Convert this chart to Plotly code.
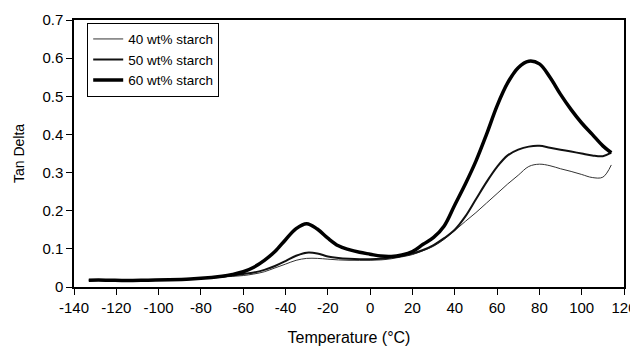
import plotly.graph_objects as go

temperature = [-133, -125, -115, -105, -95, -85, -75, -70, -65, -60, -55, -50, -45, -40, -35, -30,
               -25, -20, -15, -10, -5, 0, 5, 10, 15, 20, 25, 30, 35, 40, 45, 50, 55, 60, 65,
               70, 75, 80, 85, 90, 95, 100, 105, 110, 114]

tan_40 = [0.018, 0.018, 0.017, 0.018, 0.019, 0.021, 0.024, 0.026, 0.028, 0.030, 0.034, 0.040,
          0.050, 0.060, 0.070, 0.075, 0.075, 0.073, 0.071, 0.070, 0.070, 0.070, 0.071, 0.074,
          0.079, 0.085, 0.095, 0.107, 0.125, 0.148, 0.172, 0.195, 0.220, 0.245, 0.270, 0.293,
          0.316, 0.322, 0.318, 0.310, 0.303, 0.295, 0.287, 0.288, 0.320]

tan_50 = [0.018, 0.018, 0.017, 0.018, 0.019, 0.021, 0.025, 0.027, 0.030, 0.034, 0.038, 0.045,
          0.055, 0.068, 0.082, 0.090, 0.088, 0.080, 0.076, 0.074, 0.073, 0.073, 0.074, 0.077,
          0.082, 0.088, 0.097, 0.110, 0.128, 0.150, 0.185, 0.230, 0.275, 0.315, 0.345, 0.360,
          0.368, 0.370, 0.365, 0.360, 0.355, 0.350, 0.345, 0.343, 0.352]

tan_60 = [0.018, 0.018, 0.017, 0.018, 0.019, 0.021, 0.025, 0.028, 0.033, 0.040, 0.052, 0.070,
          0.093, 0.124, 0.153, 0.166, 0.152, 0.128, 0.108, 0.098, 0.091, 0.086, 0.081, 0.080,
          0.084, 0.093, 0.112, 0.130, 0.160, 0.215, 0.270, 0.330, 0.400, 0.475, 0.535, 0.575,
          0.592, 0.585, 0.550, 0.505, 0.465, 0.430, 0.400, 0.370, 0.352]

x_ticks = list(range(-140, 121, 20))
x_tick_labels = [str(v) for v in x_ticks]
y_ticks = [0, 0.1, 0.2, 0.3, 0.4, 0.5, 0.6, 0.7]
y_tick_labels = ["0", "0.1", "0.2", "0.3", "0.4", "0.5", "0.6", "0.7"]

fig = go.Figure()
fig.add_trace(go.Scatter(x=temperature, y=tan_40, mode="lines", name="40 wt% starch",
                         line=dict(color="#333333", width=1, shape="spline")))
fig.add_trace(go.Scatter(x=temperature, y=tan_50, mode="lines", name="50 wt% starch",
                         line=dict(color="#111111", width=2, shape="spline")))
fig.add_trace(go.Scatter(x=temperature, y=tan_60, mode="lines", name="60 wt% starch",
                         line=dict(color="#000000", width=3.5, shape="spline")))

font = "Liberation Sans, Arial, sans-serif"
fig.update_layout(
    width=630, height=338,
    margin=dict(l=66, r=14, t=12, b=59, autoexpand=False),
    plot_bgcolor="white", paper_bgcolor="white",
    font=dict(family=font, color="#000000", size=15),
    showlegend=True,
    legend=dict(x=0.024, y=0.99, xanchor="left", yanchor="top",
                bordercolor="#000000", borderwidth=1, bgcolor="white",
                font=dict(size=13.5, family=font, color="#000000"),
                itemwidth=30, tracegroupgap=0),
    xaxis=dict(range=[-140, 120], tickvals=x_ticks, ticktext=x_tick_labels, ticks="outside",
               ticklen=6, tickcolor="#000000", showline=True, linecolor="#000000",
               linewidth=1.5, mirror=True, showgrid=False, zeroline=False, automargin=False,
               tickfont=dict(size=15, color="#000000"),
               title=dict(text="Temperature (°C)", font=dict(size=16), standoff=17)),
    yaxis=dict(range=[0, 0.7], tickvals=y_ticks, ticktext=y_tick_labels, ticks="outside",
               ticklen=6, tickcolor="#000000", showline=True, linecolor="#000000",
               linewidth=1.5, mirror=True, showgrid=False, zeroline=False, automargin=False,
               tickfont=dict(size=15, color="#000000"),
               title=dict(text="Tan Delta", font=dict(size=14), standoff=14)),
)

fig.write_html("out.html")
